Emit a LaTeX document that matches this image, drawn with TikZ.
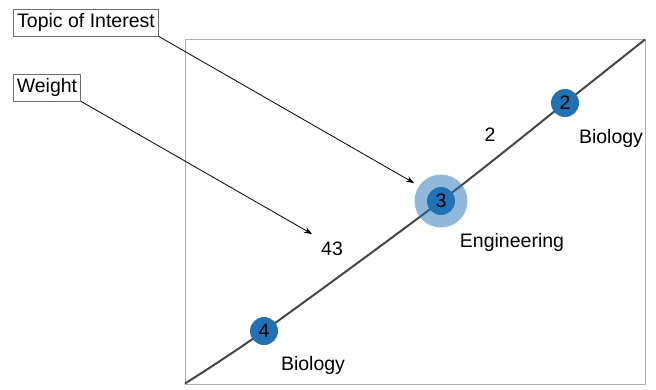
\documentclass[tikz,border=0pt]{standalone}
\usepackage{fontspec}
\setmainfont{Liberation Sans}
\usetikzlibrary{arrows.meta}
\definecolor{dotblue}{RGB}{33,113,181}
\definecolor{framegray}{RGB}{175,175,175}
\definecolor{boxgray}{RGB}{110,110,110}
\definecolor{linegray}{RGB}{70,70,70}
\tikzset{
  txt/.style={font=\fontsize{19.5}{23}\selectfont, inner sep=0pt},
  labelbox/.style={draw=boxgray, line width=0.8pt, font=\fontsize{19.5}{23}\selectfont, inner xsep=3.5pt, inner ysep=0pt, minimum height=27pt},
  dot/.style={circle, fill=dotblue, minimum size=28pt, inner sep=0pt, font=\fontsize{19.5}{23}\selectfont},
  halo/.style={circle, fill=dotblue, fill opacity=0.5, minimum size=53pt, inner sep=0pt},
  pointer/.style={draw=black, line width=0.8pt, -{Stealth[length=8pt,width=6pt]}},
}
\begin{document}
\begin{tikzpicture}[x=1pt,y=-1pt]
\useasboundingbox (0,0) rectangle (656,389);
% frame
\draw[framegray, line width=0.9pt] (185,39) rectangle (645.5,384);
% diagonal curve
\coordinate (p0) at (185,383.5);
\coordinate (p1) at (264,331);
\coordinate (p2) at (441,201);
\coordinate (p3) at (565,103);
\coordinate (p4) at (645,39.5);
\draw[linegray, line width=2pt] plot[smooth, tension=0.5] coordinates {(185,383.5) (264,331) (441,201) (565,103) (645,39.5)};
% halo and dots
\node[halo] (h3) at (p2) {};
\node[dot] (d3) at (p2) {3};
\node[dot] (d2) at (p3) {2};
\node[dot] (d4) at (p1) {4};
% labels
\node[txt] (l2) at (490,135) {2};
\node[txt] (l43) at (332,249) {43};
\node[txt] (leng) at (512,242) {Engineering};
\node[txt] (lbio1) at (611,138) {Biology};
\node[txt] (lbio2) at (313,365) {Biology};
% boxes
\node[labelbox] (topic) at (86,22.5) {Topic of Interest};
\node[labelbox] (weight) at (47,87.5) {Weight};
\coordinate (t1) at (414,183);
\coordinate (t2) at (312,234);
\draw[pointer] (topic.south east) -- (t1);
\draw[pointer] (weight.south east) -- (t2);
\end{tikzpicture}
\end{document}
